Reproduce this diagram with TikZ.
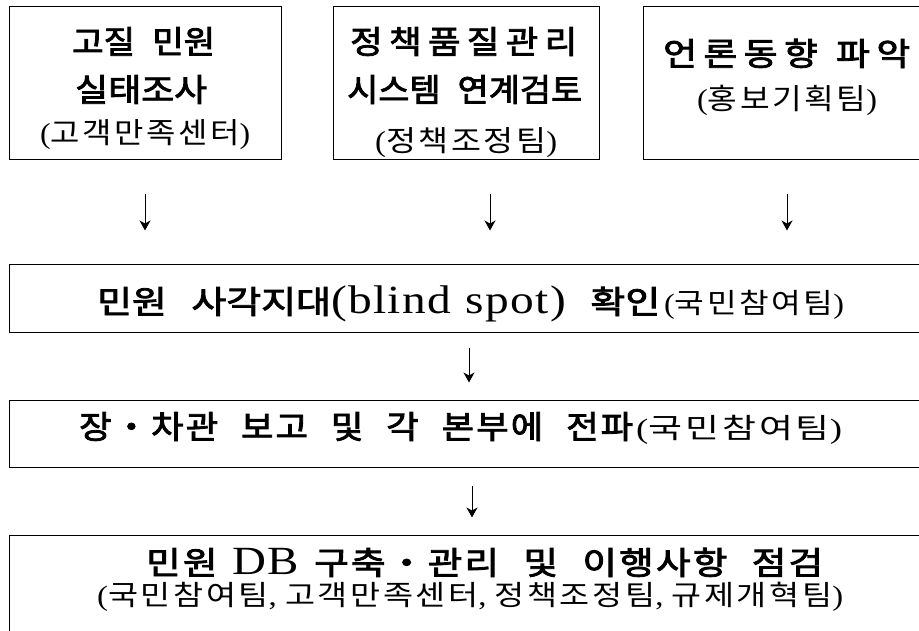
\documentclass[tikz,border=0pt]{standalone}
\usepackage{fontspec}
\usepackage{graphicx}
\setmainfont{Liberation Serif}
\newfontfamily\kr{Noto Sans CJK KR}
\newfontfamily\krh{Noto Sans CJK KR}[FakeBold=2.5]
\usetikzlibrary{arrows.meta}

\newcommand\Kfit[2]{\resizebox{#1pt}{\height}{#2}}
\newcommand\Khb[1]{{\krh\fontsize{32}{32}\selectfont #1}}
\newcommand\Ksp{\hspace{0.5em}}
\newcommand\Kwsp{\hspace{0.65em}}
\newcommand\Klt[1]{{\fontsize{40}{40}\selectfont\addfontfeature{LetterSpace=3}#1}}
\newcommand\Kpk[1]{{\kr\addfontfeature{LetterSpace=8}#1}}
\newcommand\Kpz{\fontsize{29}{29}\selectfont}
\newcommand\Kpy{\fontsize{28}{28}\selectfont}

\begin{document}
\begin{tikzpicture}[x=1pt,y=-1pt,
  box/.style={draw=black, line width=1pt, inner sep=0pt},
  arr/.style={-{Stealth[length=10pt,width=11pt,inset=3pt]}, line width=1pt},
  txt/.style={inner sep=0pt, anchor=base west}]
\useasboundingbox (0,0) rectangle (919,631);
\clip (0,0) rectangle (919,631);

% boxes
\node[box, minimum width=272pt, minimum height=153pt] (b1) at (145,83.5) {};
\node[box, minimum width=266pt, minimum height=153pt] (b2) at (466,83.5) {};
\node[box, minimum width=288pt, minimum height=153pt] (b3) at (787,83.5) {};
\node[box, minimum width=926pt, minimum height=67pt] (r2) at (472,298.5) {};
\node[box, minimum width=926pt, minimum height=67pt] (r3) at (472,433.5) {};
\node[box, minimum width=926pt, minimum height=115pt] (r4) at (472,592.5) {};

% texts, box 1
\node[txt] (t1a) at (72,53.5) {\Kfit{143}{\Khb{고질\Ksp 민원}}};
\node[txt] (t1b) at (75,101.5) {\Kfit{132}{\Khb{실태조사}}};
\node[txt] (t1c) at (40,143.5) {\Kfit{210}{\Kpz(\Kpk{고객만족센터})}};
% box 2
\node[txt] (t2a) at (350,53.5) {\Kfit{227}{\Khb{\addfontfeature{LetterSpace=18}정책품질관리}}};
\node[txt] (t2b) at (347,101.5) {\Kfit{235}{\Khb{시스템\Ksp 연계검토}}};
\node[txt] (t2c) at (375,151.5) {\Kfit{182}{\Kpz(\Kpk{정책조정팀})}};
% box 3
\node[txt] (t3a) at (663,65.5) {\Kfit{247}{\Khb{\addfontfeature{LetterSpace=18}언론동향\Ksp 파악}}};
\node[txt] (t3b) at (697,109.5) {\Kfit{180}{\Kpz(\Kpk{홍보기획팀})}};
% row 2
\node[txt] (t4) at (97,313.5) {\Kfit{563}{\Khb{민원\Kwsp 사각지대}\Klt{(blind\hspace{0.3em}spot)}\Khb{\Kwsp 확인}}\hspace{4pt}\Kfit{180}{\Kpy(\Kpk{국민참여팀})}};
% row 3
\node[txt] (t5) at (79,438.5) {\Kfit{554}{\Khb{\addfontfeature{LetterSpace=6}장・차관\Kwsp 보고\Kwsp 및\Kwsp 각\Kwsp 본부에\Kwsp 전파}}\hspace{3pt}\Kfit{206}{\Kpy(\Kpk{국민참여팀})}};
% row 4
\node[txt] (t6a) at (146,574.5) {\Kfit{677}{\Khb{\addfontfeature{LetterSpace=6}민원\hspace{0.4em}}\Klt{DB}\Khb{\addfontfeature{LetterSpace=6}\hspace{0.4em}구축・관리\Kwsp 및\Kwsp 이행사항\Kwsp 점검}}};
\node[txt] (t6b) at (97,605.5) {\Kfit{746}{\Kpy(\Kpk{국민참여팀}, \Kpk{고객만족센터}, \Kpk{정책조정팀}, \Kpk{규제개혁팀})}};

% arrows
\draw[arr, shorten <=34pt, shorten >=34pt] (b1.south) -- (b1.south |- r2.north);
\draw[arr, shorten <=34pt, shorten >=34pt] ([xshift=24pt]b2.south) -- ([xshift=24pt]b2.south |- r2.north);
\draw[arr, shorten <=34pt, shorten >=34pt] (b3.south) -- (b3.south |- r2.north);
\draw[arr, shorten <=15pt, shorten >=17pt] ([xshift=-3pt]r2.south) -- ([xshift=-3pt]r3.north);
\draw[arr, shorten <=18pt, shorten >=17pt] (r3.south) -- (r4.north);
\end{tikzpicture}
\end{document}
